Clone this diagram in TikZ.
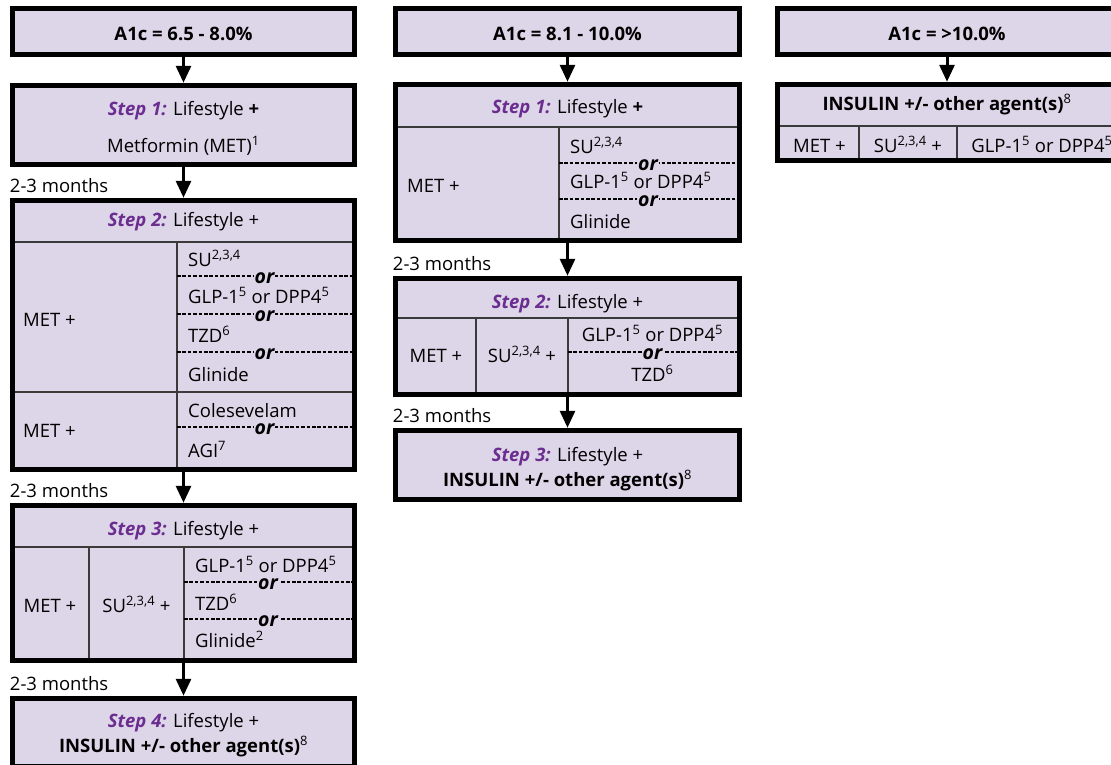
\documentclass[tikz,border=0pt]{standalone}
\usepackage{fontspec}
\setmainfont{Open Sans}
\usetikzlibrary{arrows.meta,positioning}

\definecolor{boxfill}{HTML}{DDD5E8}
\definecolor{steppurple}{HTML}{6B2D8F}
\definecolor{rulegray}{HTML}{3A3A3A}

\newcommand{\stp}[1]{\textcolor{steppurple}{\textbf{\textit{Step #1:}}}}

\begin{document}
\begin{tikzpicture}[
    x = 1pt, y = -1pt, % one unit = one pixel, downwards
    > = {Triangle[width=15pt,length=17pt]}, % arrow head style
    font = \fontsize{18.5}{22}\selectfont,
    box/.style = {draw = black, line width = 5.5pt, fill = boxfill, inner sep = 0pt},
    colA/.style = {minimum width = 342pt},
    colB/.style = {minimum width = 344pt},
    colC/.style = {minimum width = 339pt},
    txt/.style = {inner sep = 0pt, anchor = base},
    ltxt/.style = {inner sep = 0pt, anchor = base west},
    rule/.style = {draw = rulegray, line width = 1.5pt},
    orline/.style = {line width = 1.1pt, dash pattern = on 3.6pt off 1.8pt},
    ortxt/.style = {fill = boxfill, inner xsep = 1pt, inner ysep = 0pt, font = \fontsize{19.5}{22}\selectfont\bfseries\itshape},
    months/.style = {inner sep = 0pt, above right = 5pt and 0pt of #1},
    arr/.style = {->, line width = 3pt}
    ]

    \useasboundingbox (0,0) rectangle (1111,764);

    % column 1: A1c 6.5 - 8.0
    \node[box, colA, minimum height = 46pt] (a1c) at (183.5,31.5) {};
    \node[box, colA, minimum height = 79pt] (a1s1) at (183.5,125) {};
    \node[box, colA, minimum height = 269pt] (a1s2) at (183.5,335) {};
    \node[box, colA, minimum height = 155pt] (a1s3) at (183.5,583) {};
    \node[box, colA, minimum height = 68pt] (a1s4) at (183.5,732.5) {};

    % column 2: A1c 8.1 - 10.0
    \node[box, colB, minimum height = 46pt] (a2c) at (567.5,31.5) {};
    \node[box, colB, minimum height = 156pt] (a2s1) at (567.5,162.5) {};
    \node[box, colB, minimum height = 116pt] (a2s2) at (567.5,336.5) {};
    \node[box, colB, minimum height = 69pt] (a2s3) at (567.5,465) {};

    % column 3: A1c > 10.0
    \node[box, colC, minimum height = 46pt] (a3c) at (947,31.5) {};
    \node[box, colC, minimum height = 76pt] (a3s1) at (947,122.5) {};

    % table rules
    \draw[rule] (15,242) -- (352,242) (177,242) -- (177,467) (15,392) -- (352,392);
    \draw[rule] (15,547) -- (352,547) (89,547) -- (89,658) (184,547) -- (184,658);
    \draw[rule] (398,127) -- (737,127) (559,127) -- (559,238);
    \draw[rule] (398,318) -- (737,318) (476,318) -- (476,392) (568,318) -- (568,392);
    \draw[rule] (780,126) -- (1114,126) (859,126) -- (859,158) (957,126) -- (957,158);

    % "or" separators
    \foreach \y in {276,314,352,427} {
        \draw[orline] (177,\y) -- (352,\y);
        \node[ortxt] at (264.5,\y+2) {or};
    }
    \foreach \y in {582,619} {
        \draw[orline] (184,\y) -- (352,\y);
        \node[ortxt] at (268,\y+2) {or};
    }
    \foreach \y in {163,199} {
        \draw[orline] (559,\y) -- (737,\y);
        \node[ortxt] at (648,\y+2) {or};
    }
    \draw[orline] (568,352) -- (737,352);
    \node[ortxt] at (652.5,354) {or};

    % column 1 texts
    \node[txt] (a1ct) at (183.5,40) {\textbf{A1c = 6.5 - 8.0\%}};
    \node[txt] (a1s1h) at (183.5,115) {\stp{1} Lifestyle \textbf{+}};
    \node[txt] (a1s1m) at (183.5,152) {Metformin (MET)\textsuperscript{1}};
    \node[txt] (a1s2h) at (183.5,226) {\stp{2} Lifestyle +};
    \node[ltxt] (a1met1) at (23,326) {MET +};
    \node[ltxt] (a1su) at (188,266) {SU\textsuperscript{2,3,4}};
    \node[ltxt] (a1glp) at (188,303) {GLP-1\textsuperscript{5} or DPP4\textsuperscript{5}};
    \node[ltxt] (a1tzd) at (188,342) {TZD\textsuperscript{6}};
    \node[ltxt] (a1gli) at (188,381) {Glinide};
    \node[ltxt] (a1met2) at (23,437) {MET +};
    \node[ltxt] (a1col) at (188,417) {Colesevelam};
    \node[ltxt] (a1agi) at (188,457) {AGI\textsuperscript{7}};
    \node[txt] (a1s3h) at (183.5,535) {\stp{3} Lifestyle +};
    \node[txt] (a1s3met) at (50,612) {MET +};
    \node[txt] (a1s3su) at (136.5,612) {SU\textsuperscript{2,3,4} +};
    \node[ltxt] (a1s3glp) at (195,572) {GLP-1\textsuperscript{5} or DPP4\textsuperscript{5}};
    \node[ltxt] (a1s3tzd) at (195,610) {TZD\textsuperscript{6}};
    \node[ltxt] (a1s3gli) at (195,647) {Glinide\textsuperscript{2}};
    \node[txt] (a1s4h) at (183.5,727) {\stp{4} Lifestyle +};
    \node[txt] (a1s4i) at (183.5,752) {\textbf{INSULIN +/- other agent(s)}\textsuperscript{8}};

    % column 2 texts
    \node[txt] (a2ct) at (567.5,40) {\textbf{A1c = 8.1 - 10.0\%}};
    \node[txt] (a2s1h) at (567.5,113) {\stp{1} Lifestyle \textbf{+}};
    \node[ltxt] (a2met) at (407,192) {MET +};
    \node[ltxt] (a2su) at (570,153) {SU\textsuperscript{2,3,4}};
    \node[ltxt] (a2glp) at (570,188) {GLP-1\textsuperscript{5} or DPP4\textsuperscript{5}};
    \node[ltxt] (a2gli) at (570,228) {Glinide};
    \node[txt] (a2s2h) at (567.5,308) {\stp{2} Lifestyle +};
    \node[txt] (a2s2met) at (436,362) {MET +};
    \node[txt] (a2s2su) at (522,362) {SU\textsuperscript{2,3,4} +};
    \node[txt] (a2s2glp) at (652.5,341) {GLP-1\textsuperscript{5} or DPP4\textsuperscript{5}};
    \node[txt] (a2s2tzd) at (652.5,381) {TZD\textsuperscript{6}};
    \node[txt] (a2s3h) at (567.5,461) {\stp{3} Lifestyle +};
    \node[txt] (a2s3i) at (567.5,486) {\textbf{INSULIN +/- other agent(s)}\textsuperscript{8}};

    % column 3 texts
    \node[txt] (a3ct) at (947,40) {\textbf{A1c = >10.0\%}};
    \node[txt] (a3i) at (947,110) {\textbf{INSULIN +/- other agent(s)}\textsuperscript{8}};
    \node[txt] (a3met) at (819.5,152) {MET +};
    \node[txt] (a3su) at (908,152) {SU\textsuperscript{2,3,4} +};
    \node[txt] (a3glp) at (1042,152) {GLP-1\textsuperscript{5} or DPP4\textsuperscript{5}};

    % 2-3 months labels
    \node[months = a1s2.north west] (m1) {2-3 months};
    \node[months = a1s3.north west] (m2) {2-3 months};
    \node[months = a1s4.north west] (m3) {2-3 months};
    \node[months = a2s2.north west] (m4) {2-3 months};
    \node[months = a2s3.north west] (m5) {2-3 months};

    % arrows
    \draw[arr] (a1c) -- (a1s1);
    \draw[arr] (a1s1) -- (a1s2);
    \draw[arr] (a1s2) -- (a1s3);
    \draw[arr] (a1s3) -- (a1s4);
    \draw[arr] (a2c) -- (a2s1);
    \draw[arr] (a2s1) -- (a2s2);
    \draw[arr] (a2s2) -- (a2s3);
    \draw[arr] (a3c) -- (a3s1);
\end{tikzpicture}
\end{document}
